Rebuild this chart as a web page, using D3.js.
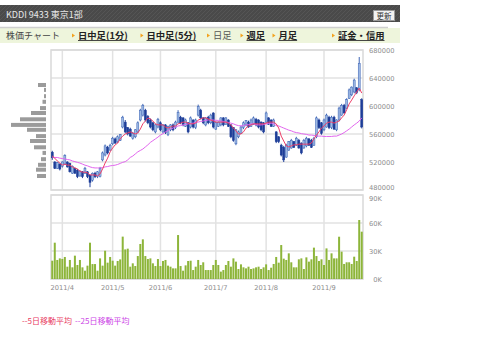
<!DOCTYPE html>
<html lang="ja">
<head>
    <meta charset="UTF-8">
    <title>KDDI 9433 株価チャート</title>
    <script src="https://d3js.org/d3.v7.min.js" charset="utf-8"></script>
    <style>
        body { margin: 0; background: #fff; }
        svg { display: block; font-family: 'Noto Sans CJK JP', sans-serif; }
        .axis text { fill: #8c8c8c; font-family: 'DejaVu Sans', sans-serif; font-size: 6.7px; }
        .axis path { display: none; }
    </style>
</head>
<body>
<div id="chart"></div>
<script>
// daily prices (yen), 2011/3/28 .. 2011/9
var priceOpen = [
    534000, 520000, 511000, 517000, 514000, 517000, 520000, 518000, 504000, 511000,
    508000, 500000, 506000, 504000, 506000, 501000, 494000, 504000, 499000, 499000,
    523000, 530000, 541000, 537000, 546000, 553000, 549000, 551000, 570000, 577000,
    569000, 567000, 554000, 556000, 563000, 580000, 587000, 594000, 585000, 580000,
    576000, 563000, 570000, 576000, 563000, 573000, 559000, 566000, 573000, 569000,
    577000, 584000, 583000, 571000, 576000, 570000, 580000, 569000, 587000, 594000,
    583000, 573000, 584000, 576000, 590000, 567000, 571000, 573000, 583000, 574000,
    580000, 573000, 569000, 546000, 556000, 561000, 569000, 573000, 577000, 571000,
    574000, 581000, 580000, 577000, 576000, 577000, 583000, 580000, 571000, 563000,
    556000, 544000, 541000, 527000, 537000, 540000, 549000, 544000, 551000, 547000,
    540000, 543000, 553000, 551000, 544000, 556000, 580000, 576000, 566000, 570000,
    584000, 569000, 584000, 566000, 580000, 587000, 601000, 597000, 611000, 616000,
    620000, 626000, 623000, 609000
];
var priceHigh = [
    536000, 521000, 520000, 518000, 521000, 531000, 521000, 519000, 515000, 512000,
    510000, 508000, 507000, 513000, 507000, 502000, 505000, 506000, 507000, 513000,
    535000, 545000, 543000, 546000, 556000, 555000, 558000, 560000, 586000, 580000,
    570000, 569000, 563000, 567000, 578000, 596000, 603000, 596000, 587000, 582000,
    577000, 574000, 583000, 578000, 574000, 574000, 572000, 574000, 575000, 579000,
    594000, 586000, 584000, 582000, 577000, 585000, 581000, 582000, 602000, 596000,
    584000, 584000, 586000, 589000, 591000, 578000, 578000, 584000, 584000, 584000,
    581000, 574000, 570000, 567000, 565000, 572000, 578000, 580000, 579000, 582000,
    585000, 583000, 581000, 578000, 577000, 592000, 584000, 581000, 582000, 564000,
    557000, 546000, 543000, 546000, 550000, 553000, 550000, 556000, 553000, 548000,
    553000, 556000, 554000, 553000, 556000, 585000, 582000, 577000, 582000, 589000,
    586000, 586000, 586000, 581000, 599000, 603000, 603000, 611000, 625000, 628000,
    639000, 627000, 670000, 611000
];
var priceLow = [
    523000, 510000, 510000, 508000, 512000, 516000, 512000, 505000, 503000, 503000,
    497000, 499000, 497000, 503000, 497000, 484000, 492000, 497000, 497000, 498000,
    521000, 528000, 531000, 536000, 544000, 546000, 547000, 550000, 568000, 561000,
    558000, 556000, 552000, 554000, 561000, 578000, 585000, 578000, 574000, 568000,
    564000, 561000, 568000, 564000, 561000, 560000, 557000, 564000, 564000, 567000,
    575000, 574000, 571000, 570000, 561000, 568000, 568000, 567000, 585000, 581000,
    574000, 571000, 574000, 574000, 568000, 566000, 570000, 571000, 571000, 573000,
    570000, 554000, 549000, 544000, 554000, 560000, 567000, 571000, 569000, 570000,
    573000, 571000, 568000, 564000, 561000, 576000, 573000, 570000, 570000, 547000,
    547000, 528000, 520000, 526000, 536000, 539000, 540000, 543000, 539000, 531000,
    539000, 541000, 543000, 540000, 543000, 554000, 567000, 559000, 564000, 569000,
    567000, 567000, 566000, 564000, 578000, 586000, 589000, 596000, 610000, 614000,
    618000, 617000, 621000, 568000
];
var priceClose = [
    526000, 511000, 519000, 510000, 520000, 529000, 513000, 506000, 514000, 504000,
    499000, 507000, 499000, 511000, 499000, 491000, 504000, 499000, 506000, 511000,
    533000, 543000, 533000, 544000, 554000, 547000, 556000, 559000, 584000, 563000,
    560000, 557000, 561000, 566000, 576000, 594000, 601000, 580000, 576000, 570000,
    566000, 573000, 581000, 566000, 573000, 562000, 571000, 573000, 566000, 577000,
    591000, 576000, 573000, 580000, 563000, 583000, 570000, 580000, 599000, 583000,
    576000, 583000, 576000, 587000, 570000, 576000, 577000, 583000, 573000, 583000,
    571000, 556000, 551000, 566000, 563000, 570000, 576000, 579000, 570000, 580000,
    583000, 573000, 570000, 566000, 563000, 590000, 574000, 571000, 580000, 549000,
    549000, 530000, 523000, 544000, 549000, 551000, 541000, 554000, 540000, 533000,
    551000, 554000, 544000, 541000, 554000, 583000, 569000, 561000, 580000, 587000,
    569000, 584000, 567000, 580000, 597000, 601000, 590000, 609000, 623000, 627000,
    637000, 619000, 661000, 570000
];
// 5日 / 25日 移動平均 (yen)
var ma5 = [
    528500, 525500, 521500, 518500, 515500, 517000, 515500, 515500, 513000, 511500,
    510000, 507000, 505500, 505500, 504500, 501500, 501500, 501500, 500000, 503000,
    510000, 518500, 525500, 534500, 540000, 544500, 547000, 553000, 557000, 560000,
    561500, 563000, 561500, 560000, 561500, 567000, 574500, 578500, 583000, 581500,
    578500, 574500, 573000, 573000, 573000, 570000, 568500, 570000, 571500, 571500,
    574500, 575500, 577000, 577000, 575500, 574500, 574500, 575500, 580000, 581500,
    583000, 583000, 581500, 580000, 578500, 577000, 577000, 577000, 577000, 577000,
    575500, 573000, 568500, 564500, 560000, 560000, 563000, 568500, 571500, 573000,
    574500, 574500, 574500, 574500, 574500, 575500, 577000, 577000, 577000, 574500,
    568500, 557000, 550000, 543000, 541500, 543000, 544500, 544500, 545500, 545500,
    545500, 545500, 545500, 547000, 553000, 558500, 563000, 568500, 571500, 575500,
    577000, 577000, 575500, 577000, 578500, 583000, 587000, 594500, 603000, 608500,
    614500, 620000, 625500, 618500
];
var ma25 = [
    527000, 526500, 526500, 525500, 525000, 524500, 523500, 523000, 521500, 520500,
    519500, 518500, 517000, 515500, 514500, 513000, 512000, 511500, 511500, 511500,
    512000, 513000, 513500, 514500, 515000, 515500, 516500, 518000, 519500, 520500,
    523000, 526500, 528500, 531500, 534500, 536500, 538500, 541500, 544500, 548000,
    550500, 553000, 555500, 558500, 560500, 563000, 565000, 567000, 568500, 570000,
    571500, 572000, 573000, 573500, 574500, 575000, 575500, 576500, 577000, 578000,
    578500, 579500, 580000, 580000, 580000, 579500, 579500, 578500, 578000, 577000,
    576500, 575500, 574500, 573000, 572000, 571500, 572000, 573000, 573500, 574500,
    574500, 573500, 573000, 573000, 573500, 574500, 575000, 575500, 574500, 572000,
    571500, 570000, 568500, 567000, 565500, 564500, 563000, 562000, 561500, 560500,
    560000, 559500, 558500, 558500, 558000, 557000, 557000, 557000, 556500, 556500,
    556500, 556500, 557000, 557000, 558500, 560000, 562000, 564500, 567000, 570000,
    573000, 575500, 578500, 583000
];
// 出来高 (shares)
var volume = [
    19600, 38900, 20400, 22100, 21500, 23600, 13200, 20400, 12500, 25000,
    15000, 20400, 12500, 8900, 14300, 38900, 16000, 16000, 8900, 22100,
    14300, 30300, 17500, 23600, 19600, 14300, 19300, 21000, 45400, 31700,
    32500, 13200, 16800, 13900, 24600, 37500, 42500, 24600, 21400, 22100,
    16800, 13900, 21400, 13900, 19300, 20400, 14300, 13200, 11400, 11400,
    47100, 13900, 8900, 14600, 19300, 19600, 9600, 13200, 20400, 15000,
    17900, 9600, 9600, 9600, 15000, 20400, 15000, 7900, 9600, 15000,
    19300, 13200, 22100, 18600, 10700, 15700, 12500, 11400, 13200, 10700,
    11400, 12500, 13200, 10700, 12500, 15700, 9600, 12100, 16100, 23600,
    17500, 36400, 21800, 20400, 27500, 17900, 12500, 12500, 21100, 22100,
    10700, 23200, 18600, 21100, 33600, 24600, 19300, 21100, 15000, 32800,
    20400, 27500, 22100, 22100, 45300, 29300, 16100, 17900, 17900, 16100,
    23900, 19300, 63200, 50700
];
// 価格帯別出来高
var histPrice = [630000, 623000, 614000, 606000, 597000, 590000, 581000, 573000, 566000,
                 557000, 550000, 541000, 533000, 524000, 516000, 509000, 500000];
var histVolume = [160, 40, 40, 70, 120, 300, 520, 700, 380, 200, 320, 240, 70, 100, 160, 200, 180];

var monthIndex = [4, 24, 43, 65, 85, 108];
var monthLabels = ['2011/4', '2011/5', '2011/6', '2011/7', '2011/8', '2011/9'];
var priceTicks = [480000, 520000, 560000, 600000, 640000, 680000];
var volumeTicks = [0, 30000, 60000, 90000];
var navLabels = ['日中足(1分)', '日中足(5分)', '日足', '週足', '月足', '証金・信用'];

var svgwidth = 480;
var svgheight = 351;

var svg = d3.select('#chart').append('svg')
    .attr('width', svgwidth)
    .attr('height', svgheight);

// ---- header bar
var defs = svg.append('defs');
var hatch = defs.append('pattern')
    .attr('id', 'hatch')
    .attr('patternUnits', 'userSpaceOnUse')
    .attr('width', 4).attr('height', 4);
hatch.append('rect').attr('width', 4).attr('height', 4).attr('fill', '#4a4a4a');
hatch.append('path').attr('d', 'M0,4L4,0').attr('stroke', '#555').attr('stroke-width', 1);

svg.append('rect')
    .attr('x', 0).attr('y', 5).attr('width', 400).attr('height', 17)
    .attr('fill', 'url(#hatch)');
svg.append('text')
    .attr('x', 6).attr('y', 17.5)
    .attr('fill', '#e8e8e8')
    .style('font-size', '9px')
    .text('KDDI 9433 東京1部');

// 更新 button
svg.append('rect')
    .attr('x', 373.5).attr('y', 10.5).attr('width', 21).attr('height', 10)
    .attr('fill', '#f2f2f2').attr('stroke', '#9a9a9a');
svg.append('text')
    .attr('x', 384).attr('y', 18.5)
    .attr('text-anchor', 'middle')
    .attr('fill', '#333')
    .style('font-size', '7.5px')
    .text('更新');

// ---- navigation bar
svg.append('rect')
    .attr('x', 0).attr('y', 28).attr('width', 400).attr('height', 15)
    .attr('fill', '#eef5dc');
svg.append('line')
    .attr('x1', 0).attr('x2', 388).attr('y1', 27.5).attr('y2', 27.5)
    .attr('stroke', '#cfcfcf').attr('stroke-width', 1.5);
svg.append('text')
    .attr('x', 6).attr('y', 39)
    .attr('fill', '#444')
    .style('font-size', '9px')
    .text('株価チャート');

var navX = [78, 146.5, 213, 246.5, 278.5, 338];
navLabels.forEach(function (label, i) {
    var isLink = label !== '日足';
    svg.append('path')
        .attr('d', 'M' + (navX[i] - 6) + ',33.5l3,2l-3,2z')
        .attr('fill', '#f3a21d');
    var t = svg.append('text')
        .attr('x', navX[i]).attr('y', 39)
        .attr('fill', isLink ? '#222' : '#555')
        .style('font-size', '9.3px')
        .style('font-weight', isLink ? 'bold' : 'normal')
        .text(label);
    if (isLink) {
        var w = t.node().getComputedTextLength();
        svg.append('line')
            .attr('x1', navX[i]).attr('x2', navX[i] + w)
            .attr('y1', 40.5).attr('y2', 40.5)
            .attr('stroke', '#333').attr('stroke-width', 0.9);
    }
});

// ---- scales
var left = 51, right = 363;
var x = d3.scaleBand()
    .domain(d3.range(priceClose.length))
    .range([left, right]);
var cx = function (i) { return x(i) + x.bandwidth() / 2; };

var yPrice = d3.scaleLinear().domain([480000, 680000]).range([190, 50]);
var yVol = d3.scaleLinear().domain([0, 90000]).range([279, 195]);
var xHist = d3.scaleLinear().domain([0, d3.max(histVolume)]).range([0, 35]);

var gridColor = '#e2e2e2';

// ---- price panel grid
var gp = svg.append('g');
gp.selectAll('.hgrid')
    .data(priceTicks)
    .enter().append('line')
    .attr('x1', left).attr('x2', right)
    .attr('y1', function (d) { return yPrice(d); })
    .attr('y2', function (d) { return yPrice(d); })
    .attr('stroke', gridColor).attr('stroke-width', 1.5);
gp.selectAll('.vgrid')
    .data(monthIndex)
    .enter().append('line')
    .attr('x1', cx).attr('x2', cx)
    .attr('y1', 50).attr('y2', 190)
    .attr('stroke', gridColor).attr('stroke-width', 1.5);
gp.append('rect')
    .attr('x', left).attr('y', 50).attr('width', right - left).attr('height', 140)
    .attr('fill', 'none').attr('stroke', '#d9d9d9').attr('stroke-width', 1.5);

// ---- volume panel grid
var gv = svg.append('g');
gv.selectAll('.hgrid')
    .data(volumeTicks)
    .enter().append('line')
    .attr('x1', left).attr('x2', right)
    .attr('y1', function (d) { return yVol(d); })
    .attr('y2', function (d) { return yVol(d); })
    .attr('stroke', gridColor).attr('stroke-width', 1.5);
gv.selectAll('.vgrid')
    .data(monthIndex)
    .enter().append('line')
    .attr('x1', cx).attr('x2', cx)
    .attr('y1', 195).attr('y2', 279)
    .attr('stroke', gridColor).attr('stroke-width', 1.5);
gv.append('rect')
    .attr('x', left).attr('y', 195).attr('width', right - left).attr('height', 84)
    .attr('fill', 'none').attr('stroke', '#d9d9d9').attr('stroke-width', 1.5);

// ---- volume by price (left)
svg.append('g').selectAll('rect')
    .data(histPrice)
    .enter().append('rect')
    .attr('x', function (d, i) { return 46 - xHist(histVolume[i]); })
    .attr('y', function (d) { return yPrice(d) - 2; })
    .attr('width', function (d, i) { return xHist(histVolume[i]); })
    .attr('height', 4)
    .attr('fill', '#9b9b9b');

// ---- candles
var upFill = '#9db9e4', upLine = '#3d64b5', downFill = '#1d3d98';
var candles = svg.append('g').selectAll('g')
    .data(priceClose)
    .enter().append('g');
candles.append('line')
    .attr('x1', function (d, i) { return cx(i); })
    .attr('x2', function (d, i) { return cx(i); })
    .attr('y1', function (d, i) { return yPrice(priceHigh[i]); })
    .attr('y2', function (d, i) { return yPrice(priceLow[i]); })
    .attr('stroke', function (d, i) { return d >= priceOpen[i] ? upLine : downFill; })
    .attr('stroke-width', 1);
candles.append('rect')
    .attr('x', function (d, i) { return cx(i) - 1; })
    .attr('width', 2)
    .attr('y', function (d, i) { return yPrice(Math.max(d, priceOpen[i])); })
    .attr('height', function (d, i) {
        return Math.max(1, Math.abs(yPrice(d) - yPrice(priceOpen[i])));
    })
    .attr('fill', function (d, i) { return d >= priceOpen[i] ? upFill : downFill; })
    .attr('stroke', function (d, i) { return d >= priceOpen[i] ? upLine : downFill; })
    .attr('stroke-width', 0.5);

// ---- moving averages
var maLine = d3.line()
    .x(function (d, i) { return cx(i); })
    .y(function (d) { return yPrice(d); });
svg.append('path')
    .attr('d', maLine(ma25))
    .attr('fill', 'none').attr('stroke', '#e266ee').attr('stroke-width', 1);
svg.append('path')
    .attr('d', maLine(ma5))
    .attr('fill', 'none').attr('stroke', '#ee3f68').attr('stroke-width', 1);

// ---- volume bars
svg.append('g').selectAll('rect')
    .data(volume)
    .enter().append('rect')
    .attr('x', function (d, i) { return cx(i) - 1; })
    .attr('width', 2)
    .attr('y', function (d) { return yVol(d); })
    .attr('height', function (d) { return yVol(0) - yVol(d); })
    .attr('fill', '#8db53a');

// ---- axes
var priceAxis = svg.append('g')
    .attr('class', 'axis')
    .attr('transform', 'translate(369,0)')
    .call(d3.axisRight(yPrice).tickValues(priceTicks).tickSize(0).tickPadding(0)
        .tickFormat(d3.format('d')));
// bottom price label sits right above "90K"; nudge the pair apart
priceAxis.selectAll('.tick text')
    .filter(function (d) { return d === 480000; })
    .attr('dy', '-0.05em');
var volAxis = svg.append('g')
    .attr('class', 'axis')
    .attr('transform', 'translate(382,0)')
    .call(d3.axisLeft(yVol).tickValues(volumeTicks).tickSize(0).tickPadding(0)
        .tickFormat(function (d) { return (d / 1000) + 'K'; }));
volAxis.selectAll('.tick text')
    .filter(function (d) { return d === 90000; })
    .attr('dy', '0.75em');
svg.append('g')
    .attr('class', 'axis')
    .attr('transform', 'translate(0,279)')
    .call(d3.axisBottom(x).tickValues(monthIndex).tickSize(0).tickPadding(6)
        .tickFormat(function (d, i) { return monthLabels[i]; }));

// ---- legend
svg.append('text')
    .attr('x', 22).attr('y', 323.5)
    .attr('fill', '#e83a5f')
    .style('font-size', '8px')
    .text('--5日移動平均');
svg.append('text')
    .attr('x', 75).attr('y', 323.5)
    .attr('fill', '#cc44e6')
    .style('font-size', '8px')
    .text('--25日移動平均');
</script>
</body>
</html>
